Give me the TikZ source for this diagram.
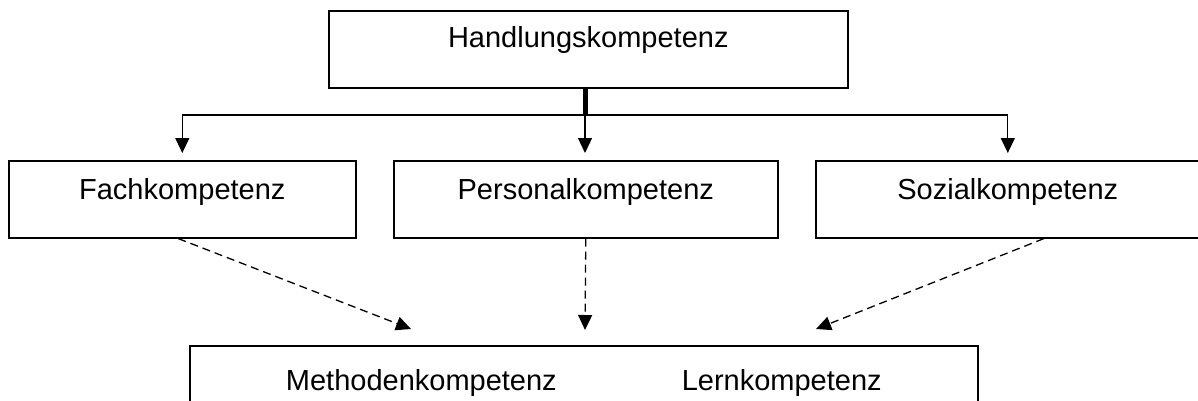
\documentclass[tikz,border=0pt]{standalone}
\usepackage{fontspec}
\setmainfont{Liberation Sans}
\usetikzlibrary{arrows.meta,calc}
\begin{document}
\begin{tikzpicture}[x=1pt,y=-1pt,
  box/.style={draw,line width=1.6pt,rectangle,inner sep=0pt,anchor=north west,
    font=\fontsize{29}{34}\selectfont},
  conn/.style={line width=1.3pt,-{Triangle[width=14pt,length=15pt]}},
  dconn/.style={conn,dash pattern=on 8pt off 5pt},
  ]
\useasboundingbox (0,0) rectangle (1198,401);
\clip (0,0) rectangle (1198,401);
% boxes
\node[box,minimum width=519pt,text height=37pt,text depth=40pt] (h) at (328,10) {Handlungskompetenz};
\node[box,minimum width=347pt,text height=39pt,text depth=38pt] (fach) at (8,160) {Fachkompetenz};
\node[box,minimum width=384pt,text height=39pt,text depth=38pt] (pers) at (393,160) {Personalkompetenz};
\node[box,minimum width=384pt,text height=39pt,text depth=38pt] (soz) at (815,160) {Sozialkompetenz};
\node[box,minimum width=788pt,text height=45pt,text depth=40pt] (bot) at (189,345) {Methodenkompetenz\hspace{125pt}Lernkompetenz};
% junction
\coordinate (j) at (585,115);
\draw[line width=5pt] (h.south -| j) -- (j);
\draw[conn,shorten >=7pt] (j) -| (fach.north);
\draw[conn,shorten >=7pt] (j) -- (pers.north -| j);
\draw[conn,shorten >=7pt] (j) -| (soz.north);
% dashed
\coordinate (t1) at (411,329);
\coordinate (t2) at (585,330);
\coordinate (t3) at (816,329);
\draw[dconn] ($(fach.south)+(-4,0)$) -- (t1);
\draw[dconn] (pers.south) -- (t2);
\draw[dconn] ($(soz.south)+(36,0)$) -- (t3);
\end{tikzpicture}
\end{document}
